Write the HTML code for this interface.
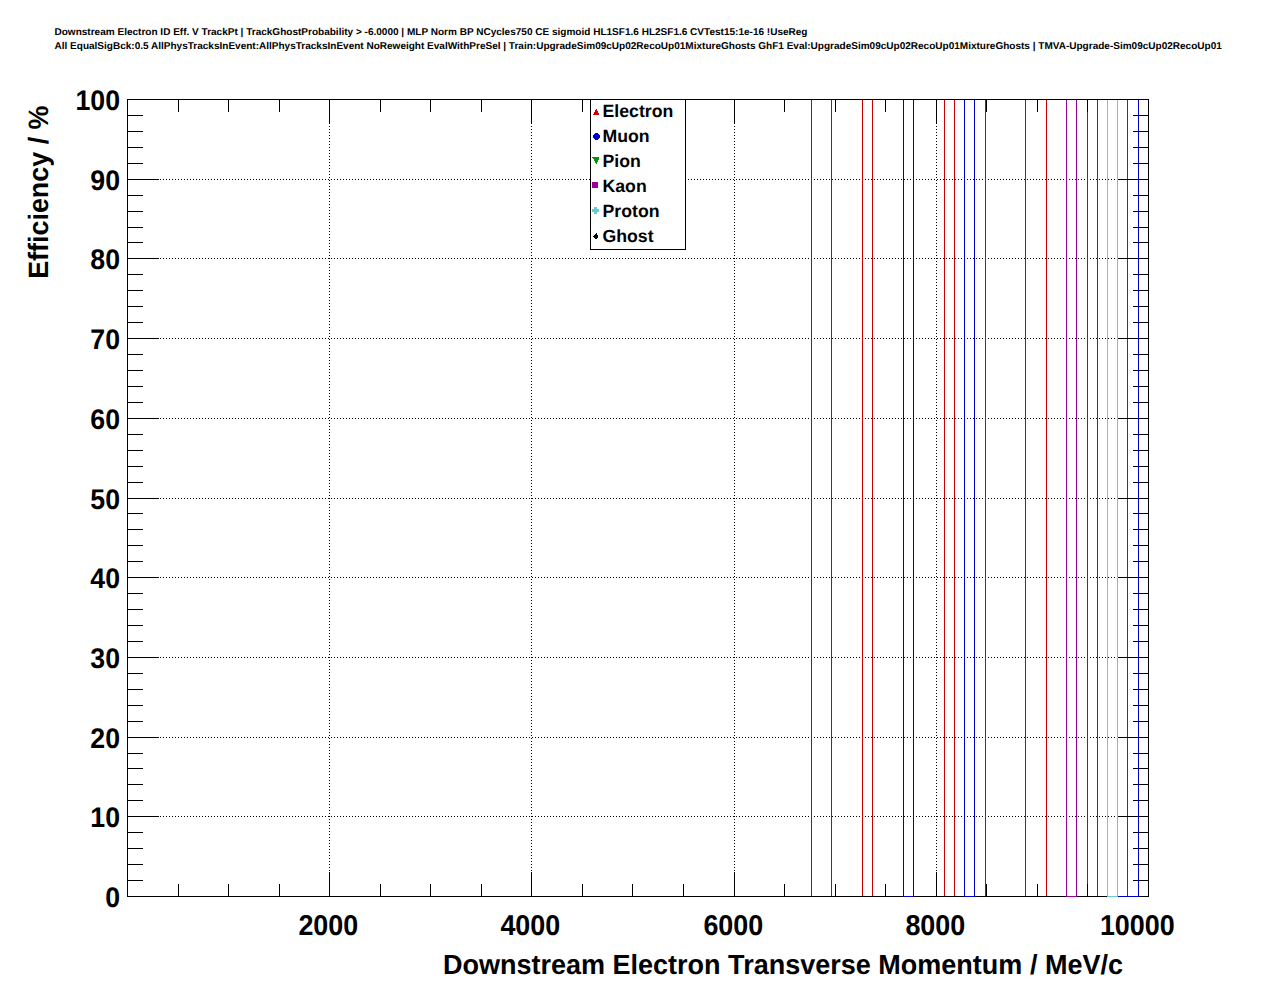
<!DOCTYPE html>
<html><head><meta charset="utf-8"><style>
html,body{margin:0;padding:0;background:#fff;}
body{width:1276px;height:996px;position:relative;overflow:hidden;font-family:"Liberation Sans",sans-serif;font-weight:bold;}
svg{position:absolute;left:0;top:0;}
.t{position:absolute;white-space:nowrap;line-height:1;color:#000;}
</style></head><body>
<svg width="1276" height="996" viewBox="0 0 1276 996" shape-rendering="crispEdges">
<rect x="0" y="0" width="1276" height="996" fill="#ffffff"/>
<path d="M130 816.5H1148M130 737.5H1148M130 657.5H1148M130 577.5H1148M130 498.5H1148M130 418.5H1148M130 338.5H1148M130 258.5H1148M130 179.5H1148M329.5 102V896M531.5 102V896M734.5 102V896M936.5 102V896" stroke="#000" stroke-width="1" stroke-dasharray="1 2" fill="none"/>
<path d="M811.5 100V896M831.5 100V896M862.5 100V896M872.5 100V896M944.5 100V896M954.5 100V896M985.5 100V896M1025.5 100V896M1046.5 100V896M1087.5 100V896M1097.5 100V896M1127.5 100V896" stroke="#cc0000" stroke-width="1" fill="none"/>
<path d="M127.5 99.5H1148.5V896.5H127.5ZM178.5 897V884M178.5 99V112M228.5 897V884M228.5 99V112M279.5 897V884M279.5 99V112M329.5 897V872M329.5 99V124M380.5 897V884M380.5 99V112M430.5 897V884M430.5 99V112M481.5 897V884M481.5 99V112M531.5 897V872M531.5 99V124M582.5 897V884M582.5 99V112M632.5 897V884M632.5 99V112M683.5 897V884M683.5 99V112M734.5 897V872M734.5 99V124M784.5 897V884M784.5 99V112M835.5 897V884M835.5 99V112M885.5 897V884M885.5 99V112M936.5 897V872M936.5 99V124M986.5 897V884M986.5 99V112M1037.5 897V884M1037.5 99V112M1087.5 897V884M1087.5 99V112M1138.5 897V872M1138.5 99V124M127 880.5H143M1149 880.5H1133M127 864.5H143M1149 864.5H1133M127 848.5H143M1149 848.5H1133M127 832.5H143M1149 832.5H1133M127 816.5H159M1149 816.5H1117M127 800.5H143M1149 800.5H1133M127 784.5H143M1149 784.5H1133M127 768.5H143M1149 768.5H1133M127 753.5H143M1149 753.5H1133M127 737.5H159M1149 737.5H1117M127 721.5H143M1149 721.5H1133M127 705.5H143M1149 705.5H1133M127 689.5H143M1149 689.5H1133M127 673.5H143M1149 673.5H1133M127 657.5H159M1149 657.5H1117M127 641.5H143M1149 641.5H1133M127 625.5H143M1149 625.5H1133M127 609.5H143M1149 609.5H1133M127 593.5H143M1149 593.5H1133M127 577.5H159M1149 577.5H1117M127 561.5H143M1149 561.5H1133M127 545.5H143M1149 545.5H1133M127 529.5H143M1149 529.5H1133M127 513.5H143M1149 513.5H1133M127 498.5H159M1149 498.5H1117M127 482.5H143M1149 482.5H1133M127 466.5H143M1149 466.5H1133M127 450.5H143M1149 450.5H1133M127 434.5H143M1149 434.5H1133M127 418.5H159M1149 418.5H1117M127 402.5H143M1149 402.5H1133M127 386.5H143M1149 386.5H1133M127 370.5H143M1149 370.5H1133M127 354.5H143M1149 354.5H1133M127 338.5H159M1149 338.5H1117M127 322.5H143M1149 322.5H1133M127 306.5H143M1149 306.5H1133M127 290.5H143M1149 290.5H1133M127 274.5H143M1149 274.5H1133M127 258.5H159M1149 258.5H1117M127 242.5H143M1149 242.5H1133M127 227.5H143M1149 227.5H1133M127 211.5H143M1149 211.5H1133M127 195.5H143M1149 195.5H1133M127 179.5H159M1149 179.5H1117M127 163.5H143M1149 163.5H1133M127 147.5H143M1149 147.5H1133M127 131.5H143M1149 131.5H1133M127 115.5H143M1149 115.5H1133" stroke="#000" stroke-width="1" fill="none"/>
<path d="M903.5 100V896M913.5 100V896M964.5 100V896M974.5 100V896M1138.5 100V896M903 896.5H914M964 896.5H975M1117 896.5H1139" stroke="#0000cc" stroke-width="1" fill="none"/>
<path d="M1066.5 100V896M1076.5 100V896M1066 896.5H1077" stroke="#990099" stroke-width="1" fill="none"/>
<path d="M1107.5 100V896M1117.5 100V896M1107 896.5H1118" stroke="#66cccc" stroke-width="1" fill="none"/>
</svg>
<svg width="1276" height="996" viewBox="0 0 1276 996" style="font-family:"Liberation Sans",sans-serif;font-weight:bold;" text-rendering="geometricPrecision">
<text text-rendering="geometricPrecision" transform="translate(54.5 34.6)" font-size="9.9" textLength="753" lengthAdjust="spacingAndGlyphs">Downstream Electron ID Eff. V TrackPt | TrackGhostProbability &gt; -6.0000 | MLP Norm BP NCycles750 CE sigmoid HL1SF1.6 HL2SF1.6 CVTest15:1e-16 !UseReg</text>
<text text-rendering="geometricPrecision" transform="translate(54.5 48.6)" font-size="9.9" textLength="1167.3" lengthAdjust="spacingAndGlyphs">All EqualSigBck:0.5 AllPhysTracksInEvent:AllPhysTracksInEvent NoReweight EvalWithPreSel | Train:UpgradeSim09cUp02RecoUp01MixtureGhosts GhF1 Eval:UpgradeSim09cUp02RecoUp01MixtureGhosts | TMVA-Upgrade-Sim09cUp02RecoUp01</text>
<text transform="translate(120.0 907.35) scale(1 1.063)" font-size="26.7" text-anchor="end">0</text>
<text transform="translate(120.0 827.35) scale(1 1.063)" font-size="26.7" text-anchor="end">10</text>
<text transform="translate(120.0 748.35) scale(1 1.063)" font-size="26.7" text-anchor="end">20</text>
<text transform="translate(120.0 668.35) scale(1 1.063)" font-size="26.7" text-anchor="end">30</text>
<text transform="translate(120.0 588.35) scale(1 1.063)" font-size="26.7" text-anchor="end">40</text>
<text transform="translate(120.0 509.35) scale(1 1.063)" font-size="26.7" text-anchor="end">50</text>
<text transform="translate(120.0 429.35) scale(1 1.063)" font-size="26.7" text-anchor="end">60</text>
<text transform="translate(120.0 349.35) scale(1 1.063)" font-size="26.7" text-anchor="end">70</text>
<text transform="translate(120.0 269.35) scale(1 1.063)" font-size="26.7" text-anchor="end">80</text>
<text transform="translate(120.0 190.35) scale(1 1.063)" font-size="26.7" text-anchor="end">90</text>
<text transform="translate(120.0 110.35) scale(1 1.063)" font-size="26.7" text-anchor="end">100</text>
<text transform="translate(328.3 934.9) scale(1 1.067)" font-size="26.9" text-anchor="middle">2000</text>
<text transform="translate(530.3 934.9) scale(1 1.067)" font-size="26.9" text-anchor="middle">4000</text>
<text transform="translate(733.3 934.9) scale(1 1.067)" font-size="26.9" text-anchor="middle">6000</text>
<text transform="translate(935.3 934.9) scale(1 1.067)" font-size="26.9" text-anchor="middle">8000</text>
<text transform="translate(1137.3 934.9) scale(1 1.067)" font-size="26.9" text-anchor="middle">10000</text>
<text transform="translate(1123 973.6) scale(1 1.025)" font-size="27.03" text-anchor="end">Downstream Electron Transverse Momentum / MeV/c</text>
<text transform="translate(48.2 105.5) rotate(-90) scale(1 1.04)" font-size="26.9" text-anchor="end">Efficiency / %</text>
<rect x="590.5" y="99.5" width="95" height="150" fill="#fff" stroke="#000" stroke-width="1" shape-rendering="crispEdges"/>
<text x="602.5" y="116.7" font-size="17.7">Electron</text>
<text x="602.5" y="141.7" font-size="17.7">Muon</text>
<text x="602.5" y="166.7" font-size="17.7">Pion</text>
<text x="602.5" y="191.7" font-size="17.7">Kaon</text>
<text x="602.5" y="216.7" font-size="17.7">Proton</text>
<text x="602.5" y="241.7" font-size="17.7">Ghost</text>
<path d="M596 109h1v1h-1zM595 110h2v1h-2zM595 111h3v1h-3zM594 112h4v1h-4zM594 113h5v1h-5zM593 114h6v1h-6z" fill="#cc0000" shape-rendering="crispEdges"/>
<path d="M595 133h3v1h-3zM594 134h5v1h-5zM593 135h7v1h-7zM593 136h7v1h-7zM593 137h7v1h-7zM594 138h5v1h-5zM595 139h3v1h-3z" fill="#0000cc" shape-rendering="crispEdges"/>
<path d="M592 157h7v1h-7zM593 158h6v1h-6zM594 159h5v1h-5zM594 160h4v1h-4zM595 161h3v1h-3zM595 162h2v1h-2zM596 163h1v1h-1z" fill="#009900" shape-rendering="crispEdges"/>
<path d="M592 182h6v1h-6zM592 183h6v1h-6zM592 184h6v1h-6zM592 185h6v1h-6zM592 186h6v1h-6zM592 187h6v1h-6z" fill="#990099" shape-rendering="crispEdges"/>
<path d="M594 207h3v1h-3zM594 208h3v1h-3zM592 209h7v1h-7zM592 210h7v1h-7zM592 211h7v1h-7zM594 212h3v1h-3zM594 213h3v1h-3z" fill="#66cccc" shape-rendering="crispEdges"/>
<path d="M596 233h1v1h-1zM595 234h2v1h-2zM594 235h4v1h-4zM593 236h5v1h-5zM594 237h4v1h-4zM595 238h2v1h-2z" fill="#000" shape-rendering="crispEdges"/>
</svg>
</body></html>
